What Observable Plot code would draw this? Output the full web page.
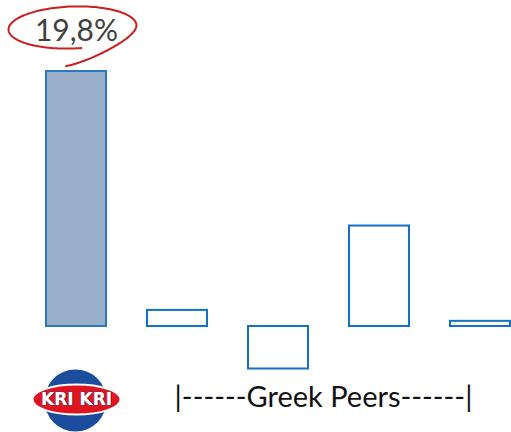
<!DOCTYPE html>
<html>
<head>
<meta charset="utf-8">
<script src="https://cdn.jsdelivr.net/npm/d3@7"></script>
<script src="https://cdn.jsdelivr.net/npm/@observablehq/plot@0.6"></script>
<style>
  html, body { margin: 0; padding: 0; background: #fff; }
  #chart svg { display: block; }
</style>
</head>
<body>
<div id="chart"></div>
<script>
// ---- data ----
const categories = ["Kri Kri", "Peer 1", "Peer 2", "Peer 3", "Peer 4"];
const values = [19.8, 1.25, -3.3, 7.8, 0.4];
const brandName = "KRI KRI";
const groupLabel = "|------Greek Peers------|";

const data = categories.map((c, i) => ({category: c, value: values[i]}));
const brand = data.filter((d, i) => i === 0);
const peers = data.filter((d, i) => i > 0);
const fmt = v => v.toFixed(1).replace(".", ",") + "%";

// hand-drawn ellipse doodle around the label
const doodle = {
  draw(ctx) {
    const rx = 64, ry = 21, rot = -2 * Math.PI / 180;
    const t0 = 82 * Math.PI / 180, t1 = 458 * Math.PI / 180, tw = 360 * Math.PI / 180;
    const n = 160;
    for (let i = 0; i <= n; i++) {
      const t = t0 + (t1 - t0) * i / n;
      let ryy = ry, rxx = rx;
      if (t > tw) {
        const f = (t - tw) / (t1 - tw);
        ryy = ry + 18 * Math.pow(f, 1.6);
        rxx = rx - 2 * f;
      }
      const x0 = rxx * Math.cos(t), y0 = ryy * Math.sin(t);
      const x = x0 * Math.cos(rot) - y0 * Math.sin(rot);
      const y = x0 * Math.sin(rot) + y0 * Math.cos(rot);
      if (i === 0) ctx.moveTo(x, y); else ctx.lineTo(x, y);
    }
  }
};

// logo red ellipse
const logoEllipse = {
  draw(ctx) {
    const rx = 44, ry = 15, k = 0.5523;
    ctx.moveTo(-rx, 0);
    ctx.bezierCurveTo(-rx, -ry * k, -rx * k, -ry, 0, -ry);
    ctx.bezierCurveTo(rx * k, -ry, rx, -ry * k, rx, 0);
    ctx.bezierCurveTo(rx, ry * k, rx * k, ry, 0, ry);
    ctx.bezierCurveTo(-rx * k, ry, -rx, ry * k, -rx, 0);
    ctx.closePath();
  }
};

const chart = Plot.plot({
  width: 511,
  height: 432,
  margin: 0,
  x: {type: "band", domain: categories, range: [3.5, 552.5], padding: 0.409, axis: null},
  y: {domain: [0, 19.8], range: [326, 71], axis: null},
  marks: [
    Plot.barY(brand, {x: "category", y: "value", fill: "#9aafca", stroke: "#2e78c0", strokeWidth: 2}),
    Plot.barY(peers, {x: "category", y: "value", fill: "white", stroke: "#1372c6", strokeWidth: 2}),
    Plot.text(brand, {x: "category", y: "value", text: d => fmt(d.value), dy: -40,
      fontSize: 30, fill: "#404040", fontFamily: "Lato, 'Open Sans', sans-serif"}),
    Plot.dot(brand, {x: "category", y: "value", dx: -4, dy: -44, symbol: doodle, r: 10,
      fill: "none", stroke: "#cc1f1f", strokeWidth: 2}),
    // logo
    Plot.dot(brand, {x: "category", y: 0, dx: -1, dy: 74, r: 31, fill: "#1c4c9c", stroke: "none"}),
    Plot.dot(brand, {x: "category", y: 0, dy: 73, symbol: logoEllipse, r: 10,
      fill: "#e0141e", stroke: "white", strokeWidth: 2}),
    Plot.text(brand, {x: "category", y: 0, dy: 73, text: () => brandName, fontSize: 17,
      fontWeight: "bold", fill: "white", stroke: "#5a3a6a", strokeWidth: 1.2,
      fontFamily: "'DejaVu Sans', sans-serif"}),
    // group label
    Plot.text([groupLabel], {x: () => categories[2], y: () => 0, text: d => d, dx: 45, dy: 71,
      fontSize: 29, fill: "#111", fontFamily: "Lato, 'Open Sans', sans-serif"})
  ]
});
document.getElementById("chart").appendChild(chart);
</script>
</body>
</html>
